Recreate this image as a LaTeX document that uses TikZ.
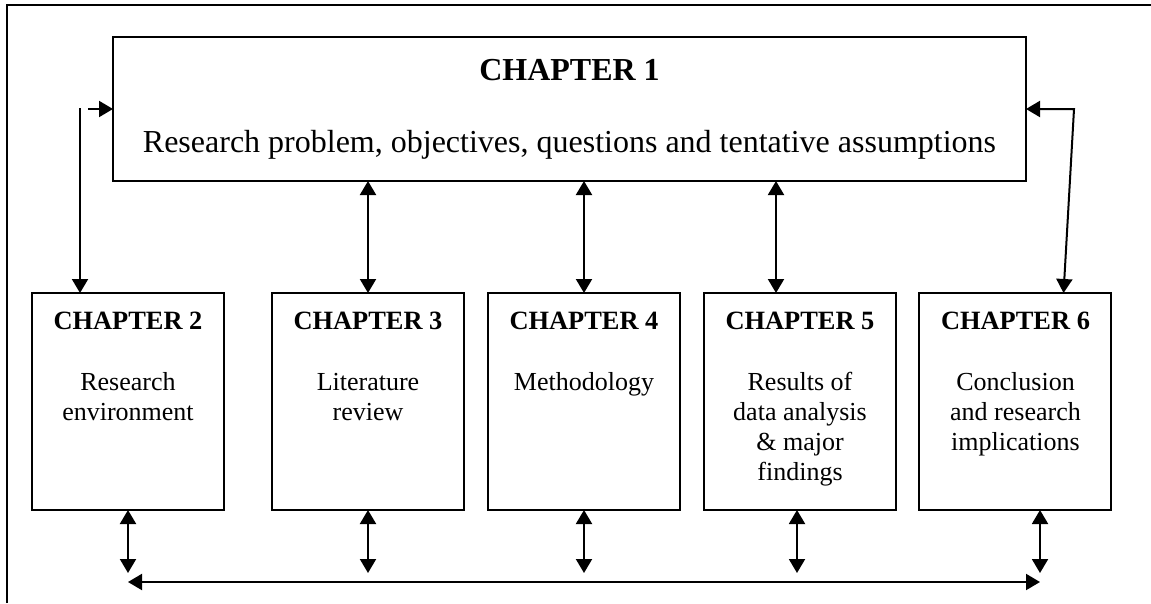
\documentclass[tikz,border=0pt]{standalone}
\usepackage{fontspec}
\setmainfont{Liberation Serif}
\usetikzlibrary{arrows.meta}
\begin{document}
\begin{tikzpicture}[x=0.75pt,y=-0.75pt,
  frame/.style={line width=1.4pt},
  box/.style={draw, line width=1.4pt, inner sep=0pt, outer sep=0pt, anchor=north west},
  bigbox/.style={box, minimum width=684.75pt, minimum height=108pt},
  chbox/.style={box, minimum width=144pt, minimum height=162.75pt},
  bigtitle/.style={anchor=base, inner sep=0pt, font=\fontsize{24}{28}\selectfont\bfseries},
  bigtext/.style={anchor=base, inner sep=0pt, font=\fontsize{24}{28}\selectfont},
  chtitle/.style={anchor=base, inner sep=0pt, font=\fontsize{19.8}{22.5}\selectfont\bfseries},
  chtext/.style={anchor=base, inner sep=0pt, align=center, font=\fontsize{19.5}{22.5}\selectfont},
  tip/.tip={Triangle[length=10.5pt,width=12pt]},
  conn/.style={line width=1.5pt, tip-tip},
  oneway/.style={line width=1.5pt, -tip}]
\useasboundingbox (0,0) rectangle (1151,603);
\draw[frame] (7,603) -- (7,5) -- (1151,5);

\node[bigbox] (c1) at (113,37) {};
\node[bigtitle] (t1) at (569.5,80) {CHAPTER 1};
\node[bigtext] (d1) at (569.5,152) {Research problem, objectives, questions and tentative assumptions};

\node[chbox] (c2) at (32,293) {};
\node[chbox] (c3) at (272,293) {};
\node[chbox] (c4) at (488,293) {};
\node[chbox] (c5) at (704,293) {};
\node[chbox] (c6) at (919,293) {};

\node[chtitle] (t2) at (128,329) {CHAPTER 2};
\node[chtitle] (t3) at (368,329) {CHAPTER 3};
\node[chtitle] (t4) at (584,329) {CHAPTER 4};
\node[chtitle] (t5) at (800,329) {CHAPTER 5};
\node[chtitle] (t6) at (1015.5,329) {CHAPTER 6};

% base anchor of a multi-line node is the baseline of its last line
\node[chtext] (d2) at (128,420) {Research\\environment};
\node[chtext] (d3) at (368,420) {Literature\\review};
\node[chtext] (d4) at (584,390) {Methodology};
\node[chtext] (d5) at (800,480) {Results of\\data analysis\\\& major\\findings};
\node[chtext] (d6) at (1015.5,450) {Conclusion\\and research\\implications};

% chapter 1 to chapters 3-5
\draw[conn] (c1.south -| c3.north) -- (c3.north);
\draw[conn] (c1.south -| c4.north) -- (c4.north);
\draw[conn] ([xshift=-18pt]c1.south -| c5.north) -- ([xshift=-18pt]c5.north);

% left connector
\coordinate (lt) at (80,108);
\coordinate (ls) at (88,109);
\draw[oneway] (lt) -- (lt |- c2.north);
\draw[oneway] (ls) -- (ls -| c1.west);

% right connector
\coordinate (rt) at (1074,109);
\draw[conn] (c1.east) -- (rt) -- ([xshift=36.4pt]c6.north);

% bottom connectors
\coordinate (b2) at (128,573);
\coordinate (b3) at (368,573);
\coordinate (b4) at (584,573);
\coordinate (b5) at (797,573);
\coordinate (b6) at (1040,573);
\draw[conn] (b2 |- c2.south) -- (b2);
\draw[conn] (b3 |- c3.south) -- (b3);
\draw[conn] (b4 |- c4.south) -- (b4);
\draw[conn] (b5 |- c5.south) -- (b5);
\draw[conn] (b6 |- c6.south) -- (b6);
\coordinate (hl) at (128,582);
\coordinate (hr) at (1040,582);
\draw[conn] (hl) -- (hr);
\end{tikzpicture}
\end{document}
